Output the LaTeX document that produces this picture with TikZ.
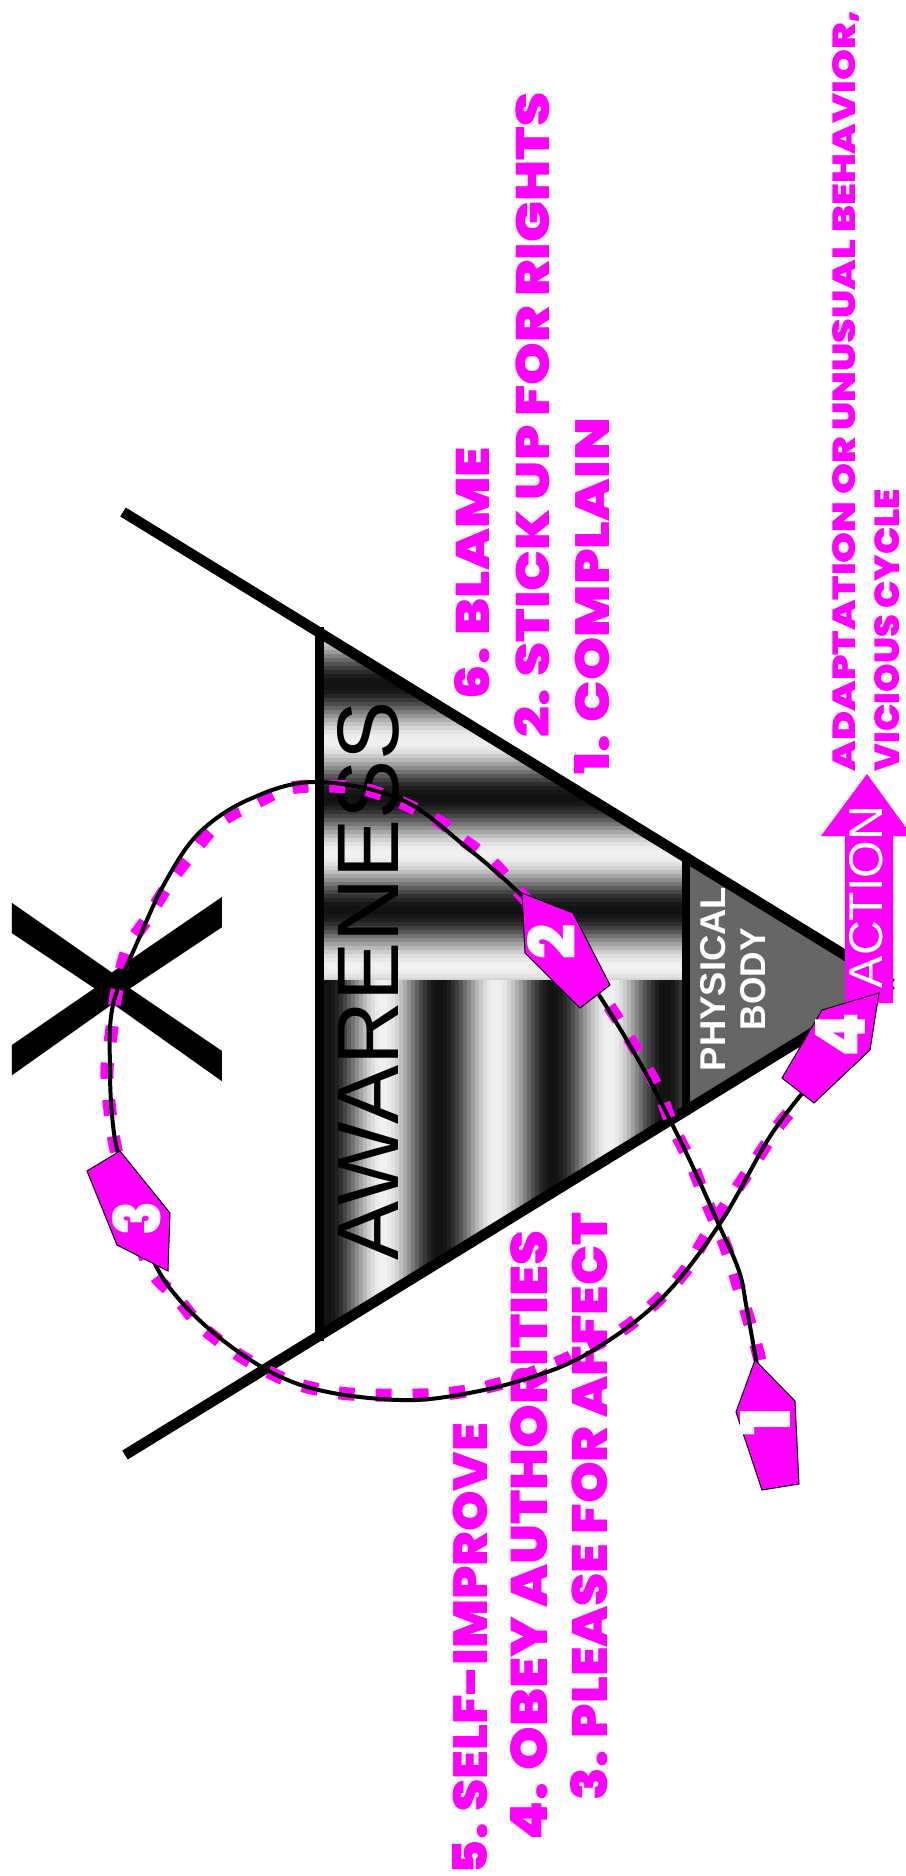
\documentclass[tikz,border=0pt]{standalone}
\usepackage{fontspec}
\usepackage{graphicx}
\newfontfamily\arialf{Liberation Sans}
\IfFontExistsTF{Poppins Black}{\newfontfamily\heavyf{Poppins Black}\newcommand\hv{\heavyf}}{\newfontfamily\heavyf{Poppins}\newcommand\hv{\heavyf\bfseries}}
\definecolor{mag}{RGB}{255,0,255}
\definecolor{pbgray}{RGB}{102,102,102}
\tikzset{
  edge/.style={line width=10.5pt, line cap=butt},
  lbl/.style={rotate=90, anchor=base west, inner sep=0pt, outer sep=0pt, text=mag},
  wlbl/.style={rotate=90, anchor=base west, inner sep=0pt, outer sep=0pt, text=white},
  digit/.style={rotate=90, anchor=center, inner sep=0pt, outer sep=0pt, text=white},
  pent/.style={fill=mag, draw=black, line width=1pt, line join=miter},
  pinkcurve/.style={draw=mag, line width=13pt, dash pattern=on 16pt off 21pt},
  blackcurve/.style={draw=black, line width=4pt},
}
\begin{document}
\begin{tikzpicture}[x=1pt,y=-1pt]
\useasboundingbox (0,0) rectangle (905,1876);
\fill[white] (0,0) rectangle (905,1876);
% gradient interior of the triangle
\begin{scope}
\clip (319,632) -- (892,984) -- (319,1336) -- cycle;
\foreach \i in {0,...,89}{
  \pgfmathsetmacro{\yy}{626+4*\i}
  \pgfmathtruncatemacro{\pp}{50-44*cos(3.18584*(\yy+2-741))}
  \fill[black!\pp] (300,\yy) rectangle (690,\yy+4.6);
}
\foreach \i in {0,...,92}{
  \pgfmathsetmacro{\xx}{319+4*\i}
  \pgfmathtruncatemacro{\pp}{50+44*cos(3.18584*(\xx+2-327))}
  \fill[black!\pp] (\xx,980) rectangle (\xx+4.6,1400);
}
\fill[pbgray] (686,830) rectangle (900,1140);
\end{scope}
% triangle lines
\coordinate (ut) at (123,512);
\coordinate (lt) at (125,1455);
\coordinate (apex) at (892,984);
\draw[edge] (ut) -- (apex);
\draw[edge] (lt) -- (apex);
\draw[line width=9pt] (319.5,627) -- (319.5,1341);
\draw[line width=8pt] (686,853) -- (686,1115);
% texts inside triangle
\node[rotate=90, anchor=base west, inner sep=0pt] (aw) at (398,1261) {\resizebox{559pt}{61pt}{\arialf AWARENESS}};
\node[wlbl] (phys) at (725,1071) {\resizebox{184pt}{25pt}{\arialf\bfseries PHYSICAL}};
\node[wlbl] (body) at (765,1030) {\resizebox{102pt}{25pt}{\arialf\bfseries BODY}};
% X
\node[rotate=90, anchor=center, inner sep=0pt] (xmark) at (117,989.5) {\resizebox{197pt}{210pt}{\arialf X}};
% pink labels
\node[lbl] (t6) at (489,699) {\resizebox{252pt}{35pt}{\hv 6. BLAME}};
\node[lbl] (t2) at (549,737) {\resizebox{644pt}{35pt}{\hv 2. STICK UP FOR RIGHTS}};
\node[lbl] (t1) at (609,774) {\resizebox{356pt}{35pt}{\hv 1. COMPLAIN}};
\node[lbl] (tad) at (855,771) {\resizebox{761pt}{23pt}{\hv ADAPTATION OR UNUSUAL BEHAVIOR,}};
\node[lbl] (tvc) at (899,771) {\resizebox{282pt}{25pt}{\hv VICIOUS CYCLE}};
\node[lbl] (t5) at (487,1874) {\resizebox{451pt}{35pt}{\hv 5. SELF-IMPROVE}};
\node[lbl] (t4) at (547,1840) {\resizebox{609pt}{37pt}{\hv 4. OBEY AUTHORITIES}};
\node[lbl] (t3) at (607,1800) {\resizebox{587pt}{37pt}{\hv 3. PLEASE FOR AFFECT}};
% ACTION arrow
\fill[mag] (867,774) -- (912,836) -- (893,836) -- (893,1003) -- (845,1003) -- (845,836) -- (821,836) -- cycle;
\node[wlbl] (act) at (882,988) {\resizebox{182pt}{33pt}{\arialf ACTION}};
% curves
\draw[pinkcurve] plot[smooth, tension=0.6] coordinates {(760,1360) (752,1331) (739,1288) (725,1245) (705,1198) (692,1165) (672,1125) (659,1091) (639,1055) (615,1015) (572,952) (519,892) (492,862) (462,839) (440,822) (400,802) (363,789) (320,786) (287,789) (257,802) (220,822) (193,852) (170,882) (147,919) (128,948) (117,990) (112,1028) (107,1071) (110,1111) (115,1145) (130,1210) (150,1268) (177,1298) (200,1325) (233,1351) (267,1371) (300,1385) (340,1393) (377,1395) (417,1395) (453,1393) (495,1385) (540,1370) (585,1350) (625,1328) (657,1301) (685,1271) (705,1238) (722,1211) (742,1181) (762,1151) (779,1125) (800,1100)};
\draw[blackcurve] plot[smooth, tension=0.6] coordinates {(757,1365) (747,1310) (739,1271) (719,1225) (692,1165) (669,1118) (639,1061) (599,995) (560,940) (520,894) (465,846) (400,799) (315,782) (250,799) (200,832) (167,879) (140,936) (113,1005) (110,1071) (113,1125) (120,1160) (140,1220) (157,1268) (187,1308) (233,1348) (283,1378) (333,1393) (400,1400) (452,1396) (519,1381) (585,1355) (659,1301) (719,1225) (769,1138) (805,1090)};
% pentagon markers
\draw[pent] (755,1360) -- (795,1401) -- (799,1484) -- (762,1490) -- (736,1412) -- cycle;
\node[digit] (d1) at (765,1422) {\resizebox{!}{50pt}{\hv 1}};
\draw[pent] (522,893) -- (573,913) -- (610,985) -- (580,1008) -- (525,953) -- cycle;
\node[digit] (d2) at (551,942) {\resizebox{35pt}{48pt}{\hv 2}};
\draw[pent] (120,1151) -- (170,1213) -- (168,1271) -- (117,1245) -- (87,1171) -- cycle;
\node[digit] (d3) at (137,1218) {\resizebox{34pt}{48pt}{\hv 3}};
\draw[pent] (814,1103) -- (870,1050) -- (879,993) -- (822,1010) -- (782,1078) -- cycle;
\node[digit] (d4) at (840,1035) {\resizebox{45pt}{50pt}{\hv 4}};
\end{tikzpicture}
\end{document}
